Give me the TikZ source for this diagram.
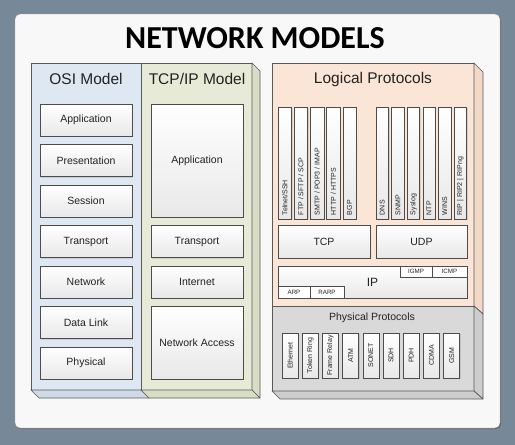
\documentclass[tikz,border=0pt]{standalone}
\usepackage{fontspec}
\setmainfont{Liberation Sans}
\newfontfamily\titlefont{Carlito}
\usetikzlibrary{shadows}

\definecolor{slate}{HTML}{778899}
\definecolor{panelwhite}{HTML}{F8F8F8}
\definecolor{osiblue}{HTML}{DEE8F2}
\definecolor{osiside}{HTML}{CFDAE6}
\definecolor{tcpgreen}{HTML}{E6EAD7}
\definecolor{tcpside}{HTML}{D8DEC5}
\definecolor{peach}{HTML}{FBE5D6}
\definecolor{peachside}{HTML}{F2D8C6}
\definecolor{physgray}{HTML}{D9D9D9}
\definecolor{physside}{HTML}{CDCDCD}
\definecolor{ink}{HTML}{222222}

\tikzset{
  face/.style={draw=black!65, line width=0.7pt, line join=round},
  layerbox/.style={draw=black!70, line width=0.6pt, top color=white, bottom color=black!9,
    inner sep=0pt, text=ink, font=\fontsize{10.5}{12}\selectfont,
    drop shadow={shadow xshift=1pt, shadow yshift=-1pt, opacity=0.25}},
  smallbox/.style={draw=black!70, line width=0.5pt, fill=white, inner sep=0pt,
    text=ink, font=\fontsize{6.2}{7}\selectfont},
  protobar/.style={layerbox, minimum height=112pt},
  physbar/.style={layerbox, minimum width=16pt, minimum height=45pt},
  bartext/.style={rotate=90, inner sep=0pt, text=ink, font=\fontsize{7}{8}\selectfont},
  heading/.style={text=ink, inner sep=0pt, font=\fontsize{15.5}{18}\selectfont},
}

\begin{document}
\begin{tikzpicture}[x=1pt, y=-1pt]
    \useasboundingbox (0,0) rectangle (515,445);
    \fill [slate] (0,0) rectangle (515,445);
    \fill [black!60, rounded corners=5pt] (16,15) rectangle (501,429);
    \draw [black!40, fill=panelwhite, rounded corners=5pt] (15,14) rectangle (500,428);

    \node [font=\titlefont\bfseries\fontsize{32}{38}\selectfont, anchor=base, inner sep=0pt] (title) at (255,48) {NETWORK MODELS};

    % OSI and TCP/IP block
    \draw [face, fill=osiblue] (31,63) rectangle (141,390);
    \draw [face, fill=tcpgreen] (141,63) rectangle (252,390);
    \draw [face, fill=tcpside] (252,63) -- (260,71) -- (260,398) -- (252,390) -- cycle;
    \draw [face, fill=osiside] (31,390) -- (141,390) -- (149,398) -- (39,398) -- cycle;
    \draw [face, fill=tcpside] (141,390) -- (252,390) -- (260,398) -- (149,398) -- cycle;
    \node [heading] (osititle) at (86,79) {OSI Model};
    \node [heading] (tcptitle) at (197,79) {TCP/IP Model};

    \foreach \lbl [count=\i] in {Application, Presentation, Session, Transport, Network, Data Link, Physical} {
        \node [layerbox, minimum width=92pt, minimum height=32pt] (osi-\i) at (86,{120+40.5*(\i-1)}) {\lbl};
    }

    \node [layerbox, minimum width=92pt, minimum height=113pt] (tcp-app) at (197,160.5) {Application};
    \node [layerbox, minimum width=92pt, minimum height=32pt] (tcp-trans) at (197,241.5) {Transport};
    \node [layerbox, minimum width=92pt, minimum height=32pt] (tcp-inet) at (197,282) {Internet};
    \node [layerbox, minimum width=92pt, minimum height=72.5pt] (tcp-net) at (197,342.75) {Network Access};

    % Logical and physical protocols block
    \draw [face, fill=peach] (272,63) rectangle (474,306);
    \draw [face, fill=peachside] (474,63) -- (483,72) -- (483,314) -- (474,306) -- cycle;
    \draw [face, fill=physgray] (272,306) rectangle (474,391);
    \draw [face, fill=physside] (474,306) -- (483,314) -- (483,399) -- (474,391) -- cycle;
    \draw [face, fill=physside] (272,391) -- (474,391) -- (483,399) -- (280,399) -- cycle;
    \node [heading] (logtitle) at (373,79) {Logical Protocols};
    \node [heading, font=\fontsize{10.5}{12}\selectfont] (phystitle) at (372,318) {Physical Protocols};

    \foreach \lbl [count=\i] in {Telnet/SSH, FTP / SFTP / SCP, SMTP / POP3 / IMAP, HTTP / HTTPS, BGP} {
        \node [protobar, minimum width=13.5pt] (tcpproto-\i) at ({284.75+16.2*(\i-1)},163) {};
        \node [bartext, anchor=west] at ([yshift=4pt]tcpproto-\i.south) {\lbl};
    }
    \foreach \lbl [count=\i] in {DNS, SNMP, Syslog, NTP, WINS, RIP | RIP2 | RIPng} {
        \node [protobar, minimum width=12.5pt] (udpproto-\i) at ({382.25+15.6*(\i-1)},163) {};
        \node [bartext, anchor=west] at ([yshift=4pt]udpproto-\i.south) {\lbl};
    }

    \node [layerbox, minimum width=92pt, minimum height=33pt] (tcp) at (324,241.5) {TCP};
    \node [layerbox, minimum width=91pt, minimum height=33pt] (udp) at (421.5,241.5) {UDP};
    \node [layerbox, minimum width=189pt, minimum height=32pt, font=\fontsize{12}{14}\selectfont] (ip) at (372.5,282) {IP};
    \node [smallbox, minimum width=32pt, minimum height=11pt] (igmp) at (416,271.5) {IGMP};
    \node [smallbox, minimum width=35pt, minimum height=11pt] (icmp) at (449.5,271.5) {ICMP};
    \node [smallbox, minimum width=32pt, minimum height=12pt] (arp) at (294,292) {ARP};
    \node [smallbox, minimum width=34pt, minimum height=12pt] (rarp) at (327,292) {RARP};

    \foreach \lbl [count=\i] in {Ethernet, Token Ring, Frame Relay, ATM, SONET, SDH, PDH, CDMA, GSM} {
        \node [physbar] (phys-\i) at ({290+20.2*(\i-1)},355.5) {};
        \node [bartext] at (phys-\i.center) {\lbl};
    }
\end{tikzpicture}
\end{document}
